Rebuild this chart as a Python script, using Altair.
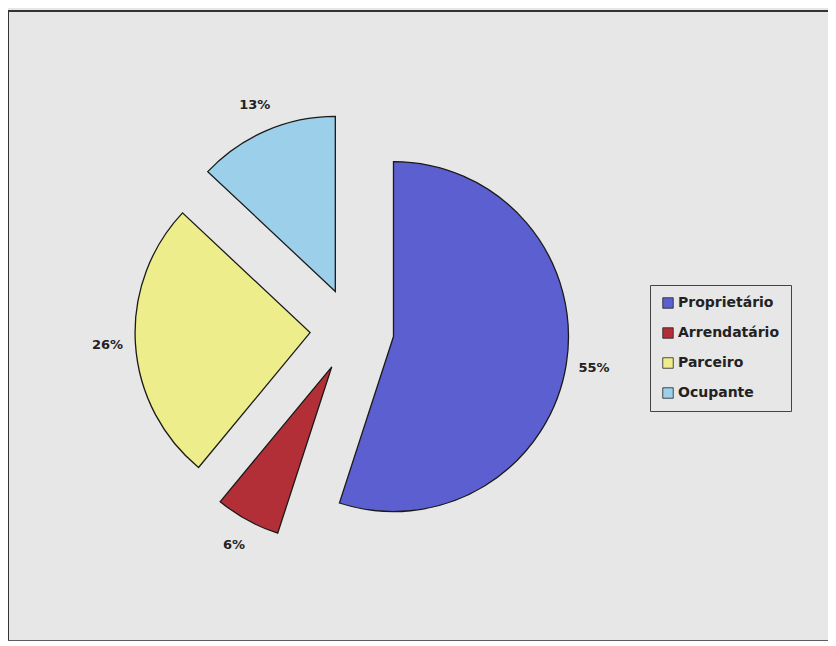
import altair as alt
import pandas as pd

# ---- data ----
categories = ["Proprietário", "Arrendatário", "Parceiro", "Ocupante"]
shares = [55, 6, 26, 13]
colors = ["#5c5fcf", "#b32f37", "#eeed8c", "#9ccfea"]

# ---- layout constants ----
W, H = 820, 630          # plot area (view) size
CX, CY = 344, 319        # pie centre inside the view
R = 175                  # pie radius
EXPLODE = 42             # distance each slice is pulled out
LABEL_R = 245            # distance of the percentage labels
BG = "#e7e7e7"

df = pd.DataFrame({
    "categoria": categories,
    "pct": shares,
    "ordem": list(range(len(categories))),
})

xs = alt.Scale(domain=[0, W], range=[0, W])
ys = alt.Scale(domain=[0, H], range=[0, H])

base = (
    alt.Chart(df)
    .transform_joinaggregate(total="sum(pct)")
    .transform_window(cum="sum(pct)", sort=[alt.SortField("ordem")], frame=[None, 0])
    .transform_calculate(
        t0="2*PI*(datum.cum - datum.pct)/datum.total",
        t1="2*PI*datum.cum/datum.total",
    )
    .transform_calculate(mid="(datum.t0 + datum.t1)/2")
    .transform_calculate(
        px=f"{CX} + {EXPLODE}*sin(datum.mid)",
        py=f"{CY} - {EXPLODE}*cos(datum.mid)",
        lx=f"{CX} + {LABEL_R}*sin(datum.mid)",
        ly=f"{CY} - {LABEL_R}*cos(datum.mid)",
        rotulo="datum.pct + '%'",
    )
)

arcs = base.mark_arc(radius=R, stroke="#1a1a1a", strokeWidth=1.3).encode(
    x=alt.X("px:Q", scale=xs, axis=None),
    y=alt.Y("py:Q", scale=ys, axis=None),
    theta=alt.Theta("t0:Q", scale=None, stack=False),
    theta2=alt.Theta2("t1:Q"),
    color=alt.Color(
        "categoria:N",
        scale=alt.Scale(domain=categories, range=colors),
        sort=categories,
        legend=alt.Legend(
            title=None,
            orient="none",
            legendX=642,
            legendY=274,
            direction="vertical",
            strokeColor="#444444",
            fillColor=BG,
            padding=11,
            symbolType="square",
            symbolSize=110,
            symbolStrokeColor="#222222",
            symbolStrokeWidth=0.8,
            symbolOpacity=1,
            labelFont="DejaVu Sans",
            labelFontWeight="bold",
            labelFontSize=14,
            labelColor="#222222",
            labelOffset=3,
            rowPadding=16,
        ),
    ),
)

labels = base.mark_text(
    font="DejaVu Sans", fontWeight="bold", fontSize=13, color="#222222"
).encode(
    x=alt.X("lx:Q", scale=xs, axis=None),
    y=alt.Y("ly:Q", scale=ys, axis=None),
    text="rotulo:N",
)

frame_left = alt.Chart(df).mark_rule(color="#333333", strokeWidth=1.5).encode(
    x=alt.value(0), y=alt.value(0), y2=alt.value(H)
)
frame_top = alt.Chart(df).mark_rule(color="#333333", strokeWidth=1.5).encode(
    x=alt.value(0), x2=alt.value(W), y=alt.value(0)
)
frame_bottom = alt.Chart(df).mark_rule(color="#555555", strokeWidth=1).encode(
    x=alt.value(0), x2=alt.value(W), y=alt.value(H)
)

chart = (
    alt.layer(frame_left, frame_top, frame_bottom, arcs, labels)
    .properties(
        width=W,
        height=H,
        autosize=alt.AutoSizeParams(type="none"),
        padding={"left": 0, "top": 3, "right": 0, "bottom": 0},
        background=BG,
    )
    .configure_view(stroke=None)
)

chart.save("out.html", embed_options={"renderer": "svg", "actions": False})
